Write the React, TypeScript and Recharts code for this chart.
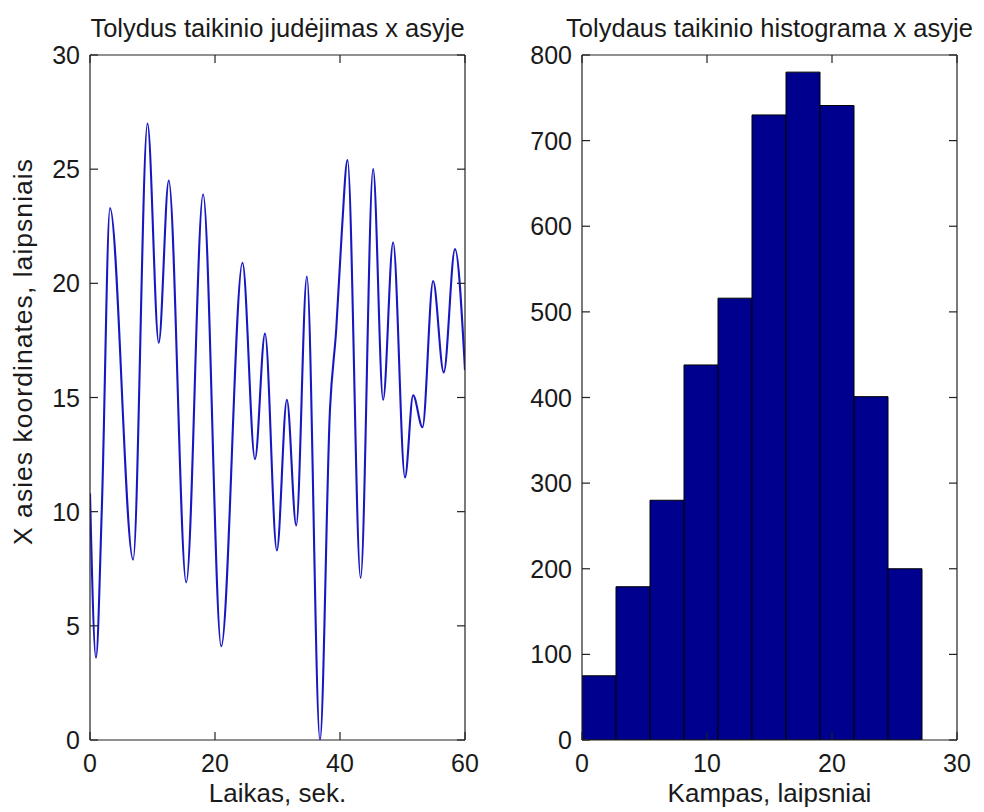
import React from "react";
import { LineChart, Line, ComposedChart, Bar, XAxis, YAxis, Label } from "recharts";

// left plot: target x position over time
const timeSec = [
  0, 0.96, 1.9, 3.2, 6.9, 9.2, 11.0, 12.6, 15.4, 18.1, 21.0, 24.4, 26.4, 28.0,
  29.9, 31.5, 33.0, 34.7, 36.8, 38.4, 39.4, 40.3, 41.2, 43.3, 45.3, 46.9, 48.5,
  50.4, 51.7, 53.2, 54.9, 56.6, 58.4, 60,
];
const xPosition = [
  10.8, 3.6, 10.2, 23.3, 7.9, 27.0, 17.4, 24.5, 6.9, 23.9, 4.1, 20.9, 12.3, 17.8,
  8.3, 14.9, 9.4, 20.3, 0.0, 14.5, 18.0, 22.3, 25.4, 7.1, 25.0, 14.9, 21.8,
  11.5, 15.1, 13.7, 20.1, 16.1, 21.5, 16.2,
];
const timeTicks = [0, 20, 40, 60];
const posTicks = [0, 5, 10, 15, 20, 25, 30];

// right plot: histogram, 10 bins
const binCenters = [1.36, 4.08, 6.8, 9.52, 12.24, 14.96, 17.68, 20.4, 23.12, 25.84];
const binCounts = [75, 179, 280, 438, 516, 730, 780, 741, 401, 200];
const angleTicks = [0, 10, 20, 30];
const countTicks = [0, 100, 200, 300, 400, 500, 600, 700, 800];

const lineData = timeSec.map((t, i) => ({ t, x: xPosition[i] }));
const histData = binCenters.map((c, i) => ({ c, n: binCounts[i] }));

const FONT = "'Liberation Sans', Arial, sans-serif";
const INK = "#1a1a1a";
const AXIS = "#222";
const TICK = 8;

const BottomTick = ({ x, y, payload }: any) => (
  <g>
    <path d={`M${x},${y}V${y - TICK}`} stroke={AXIS} strokeWidth={1.2} fill="none" />
    <text x={x} y={y + 32} textAnchor="middle" fontFamily={FONT} fontSize={25} fill={INK}>
      {payload.value}
    </text>
  </g>
);
const TopTick = ({ x, y }: any) => (
  <path d={`M${x},${y}V${y + TICK}`} stroke={AXIS} strokeWidth={1.2} fill="none" />
);
const LeftTick = ({ x, y, payload }: any) => (
  <g>
    <path d={`M${x},${y}H${x + TICK}`} stroke={AXIS} strokeWidth={1.2} fill="none" />
    <text x={x - 10} y={y + 9} textAnchor="end" fontFamily={FONT} fontSize={25} fill={INK}>
      {payload.value}
    </text>
  </g>
);
const RightTick = ({ x, y }: any) => (
  <path d={`M${x},${y}H${x - TICK}`} stroke={AXIS} strokeWidth={1.2} fill="none" />
);

function Title({ viewBox, text }: any) {
  return (
    <text x={viewBox.x + viewBox.width / 2} y={37} textAnchor="middle" fontFamily={FONT} fontSize={25.5} fill={INK}>
      {text}
    </text>
  );
}
function XTitle({ viewBox, text }: any) {
  return (
    <text x={viewBox.x + viewBox.width / 2} y={802} textAnchor="middle" fontFamily={FONT} fontSize={26} fill={INK}>
      {text}
    </text>
  );
}
function YTitle({ text }: any) {
  const cx = 32;
  const cy = 352;
  return (
    <text x={cx} y={cy} transform={`rotate(-90 ${cx} ${cy})`} textAnchor="middle" textLength={386} lengthAdjust="spacing" fontFamily={FONT} fontSize={26.5} fill={INK}>
      {text}
    </text>
  );
}

const axisCommon = {
  tickLine: false,
  tickSize: 0,
  tickMargin: 0,
  interval: 0 as const,
  allowDataOverflow: true,
  axisLine: { stroke: AXIS, strokeWidth: 1.2 },
};

export default function App() {
  return (
    <div style={{ position: "absolute", left: 0, top: 0, width: 984, height: 812, background: "#fff" }}>
      <div style={{ position: "absolute", left: 0, top: 0 }}>
        <LineChart width={490} height={812} data={lineData} margin={{ top: 54, right: 24, bottom: 42, left: 0 }}>
          <XAxis {...axisCommon} dataKey="t" type="number" domain={[0, 60]} ticks={timeTicks} height={30} tick={<BottomTick />}>
            <Label content={(p: any) => <XTitle {...p} text="Laikas, sek." />} />
          </XAxis>
          <XAxis {...axisCommon} xAxisId="top" dataKey="t" orientation="top" type="number" domain={[0, 60]} ticks={timeTicks} height={1} tick={<TopTick />}>
            <Label content={(p: any) => <Title {...p} text="Tolydus taikinio judėjimas x asyje" />} />
          </XAxis>
          <YAxis {...axisCommon} type="number" domain={[0, 30]} ticks={posTicks} width={90} tick={<LeftTick />}>
            <Label content={(p: any) => <YTitle {...p} text="X asies koordinates, laipsniais" />} />
          </YAxis>
          <YAxis {...axisCommon} yAxisId="right" orientation="right" type="number" domain={[0, 30]} ticks={posTicks} width={1} tick={<RightTick />} />
          {/* invisible copy so the box axes (top/right) get drawn */}
          <Line xAxisId="top" yAxisId="right" dataKey="x" stroke="none" dot={false} legendType="none" isAnimationActive={false} />
          <Line type="monotone" dataKey="x" stroke="#1818c0" strokeWidth={2.1} dot={false} isAnimationActive={false} />
        </LineChart>
      </div>
      <div style={{ position: "absolute", left: 490, top: 0 }}>
        <ComposedChart width={494} height={812} data={histData} barCategoryGap={0} barGap={0} margin={{ top: 54, right: 26, bottom: 42, left: 0 }}>
          <XAxis {...axisCommon} dataKey="c" type="number" domain={[0, 30]} ticks={angleTicks} height={30} tick={<BottomTick />}>
            <Label content={(p: any) => <XTitle {...p} text="Kampas, laipsniai" />} />
          </XAxis>
          <XAxis {...axisCommon} xAxisId="top" dataKey="c" orientation="top" type="number" domain={[0, 30]} ticks={angleTicks} height={1} tick={<TopTick />}>
            <Label content={(p: any) => <Title {...p} text="Tolydaus taikinio histograma x asyje" />} />
          </XAxis>
          <YAxis {...axisCommon} type="number" domain={[0, 800]} ticks={countTicks} width={92} tick={<LeftTick />} />
          <YAxis {...axisCommon} yAxisId="right" orientation="right" type="number" domain={[0, 800]} ticks={countTicks} width={1} tick={<RightTick />} />
          <Bar dataKey="n" fill="#00008f" stroke="#000" strokeWidth={1} isAnimationActive={false} />
          <Line xAxisId="top" yAxisId="right" dataKey="n" stroke="none" dot={false} legendType="none" isAnimationActive={false} />
        </ComposedChart>
      </div>
    </div>
  );
}
